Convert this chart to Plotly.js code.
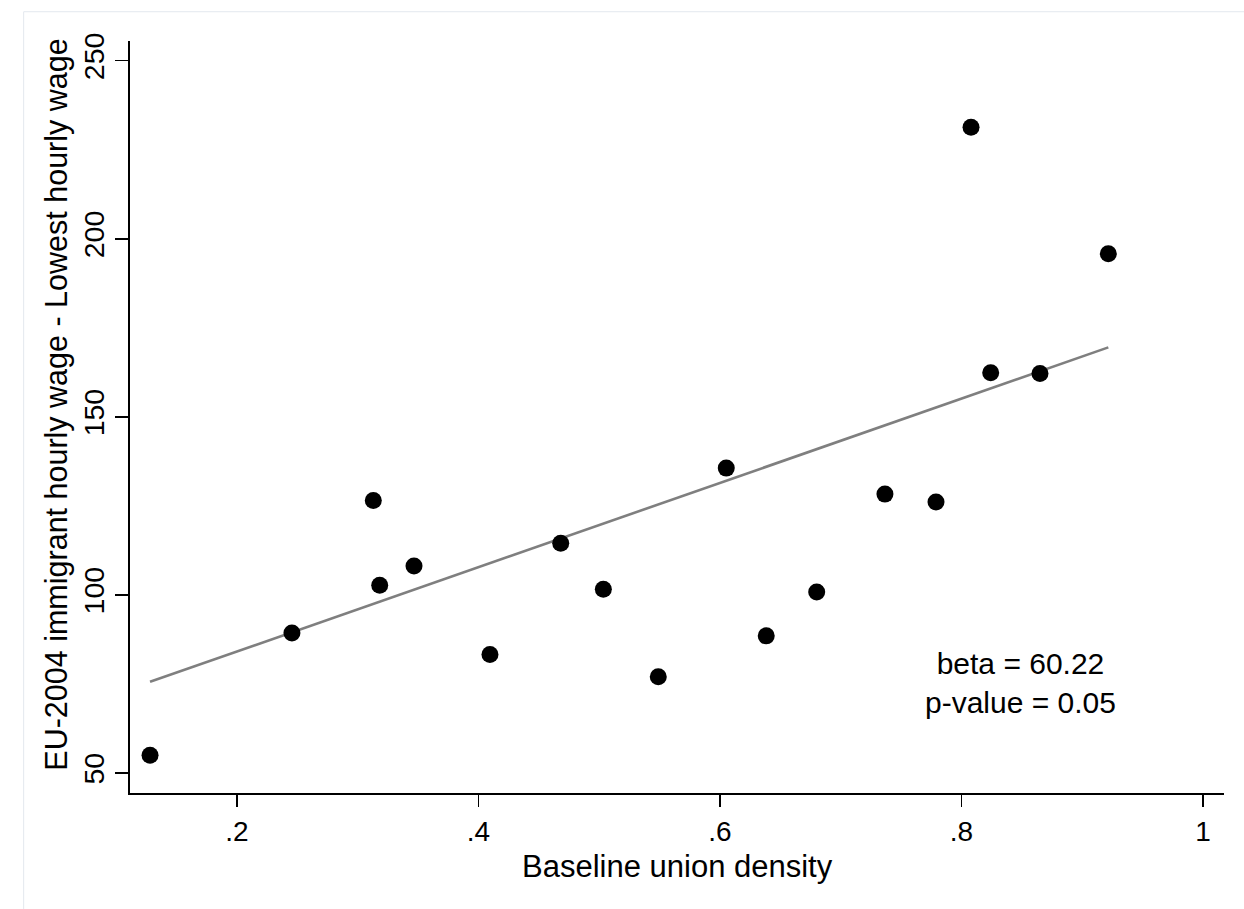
<!DOCTYPE html>
<html>
<head>
<meta charset="utf-8">
<script src="https://cdn.plot.ly/plotly-3.0.1.min.js"></script>
<style>
  html, body { margin: 0; padding: 0; background: #ffffff; }
  #chart { width: 1244px; height: 909px; }
</style>
</head>
<body>
<div id="chart"></div>
<script>
// Data
const unionDensity = [0.128, 0.2455, 0.3129, 0.3182, 0.3466, 0.4095, 0.4681, 0.5034, 0.5489,
                      0.6052, 0.6383, 0.6801, 0.7366, 0.7789, 0.8079, 0.8242, 0.8650, 0.9216];
const wageGap = [55.0, 89.3, 126.5, 102.7, 108.1, 83.3, 114.5, 101.6, 77.0,
                 135.6, 88.5, 100.8, 128.3, 126.1, 231.3, 162.4, 162.2, 195.8];
const fitX = [0.128, 0.9216];
const fitY = [75.6, 169.5];
const xTickVals = [0.2, 0.4, 0.6, 0.8, 1];
const xTickText = [".2", ".4", ".6", ".8", "1"];
const yTickVals = [50, 100, 150, 200, 250];
const yTickText = ["50", "100", "150", "200", "250"];
const xTitle = "Baseline union density";
const yTitle = "EU-2004 immigrant hourly wage - Lowest hourly wage";
const annotationLines = ["beta = 60.22", "p-value = 0.05"];

const FONT = "Liberation Sans, Arial, Helvetica, sans-serif";

const traces = [
  {
    type: "scatter", mode: "lines",
    x: fitX, y: fitY,
    line: { color: "#7f7f7f", width: 2.6 },
    hoverinfo: "skip", showlegend: false
  },
  {
    type: "scatter", mode: "markers",
    x: unionDensity, y: wageGap,
    marker: { color: "#000000", size: 17, line: { width: 0 } },
    showlegend: false
  }
];

const layout = {
  width: 1244, height: 909,
  paper_bgcolor: "#ffffff", plot_bgcolor: "#ffffff",
  margin: { l: 130, r: 20, t: 41, b: 116 },
  font: { family: FONT, color: "#000000", size: 28 },
  showlegend: false,
  xaxis: {
    range: [0.1114, 1.0174],
    showgrid: false, zeroline: false,
    showline: true, linecolor: "#000000", linewidth: 2,
    ticks: "outside", ticklen: 12, tickwidth: 1.5, tickcolor: "#000000",
    tickvals: xTickVals, ticktext: xTickText,
    tickfont: { family: FONT, size: 28, color: "#000000" },
    automargin: false
  },
  yaxis: {
    range: [44.38, 255.53],
    showgrid: false, zeroline: false,
    showline: true, linecolor: "#000000", linewidth: 2,
    ticks: "outside", ticklen: 13, tickwidth: 1.5, tickcolor: "#000000",
    tickvals: yTickVals, ticktext: yTickText, tickangle: -90,
    tickfont: { family: FONT, size: 28.5, color: "#000000" },
    automargin: false
  },
  annotations: [
    {
      x: 0.8485, y: 75.2, xref: "x", yref: "y",
      text: annotationLines.join("<br>"),
      showarrow: false, align: "center",
      xanchor: "center", yanchor: "middle",
      font: { family: FONT, size: 30, color: "#000000" }
    },
    {
      x: 0.5, y: -0.0971, xref: "paper", yref: "paper",
      text: xTitle, showarrow: false, borderpad: 0,
      xanchor: "center", yanchor: "middle",
      font: { family: FONT, size: 31, color: "#000000" }
    },
    {
      x: -0.067, y: 0.516, xref: "paper", yref: "paper",
      text: yTitle, showarrow: false, textangle: -90,
      xanchor: "center", yanchor: "middle",
      font: { family: FONT, size: 30.5, color: "#000000" }
    }
  ],
  shapes: [{
    type: "rect", xref: "paper", yref: "paper",
    x0: -0.0972, x1: 1.2, y0: -0.2, y1: 1.0389,
    line: { color: "#e3e8ee", width: 1 }, fillcolor: "rgba(0,0,0,0)", layer: "below"
  }]
};

Plotly.newPlot("chart", traces, layout, { displayModeBar: false, staticPlot: true });
</script>
</body>
</html>
